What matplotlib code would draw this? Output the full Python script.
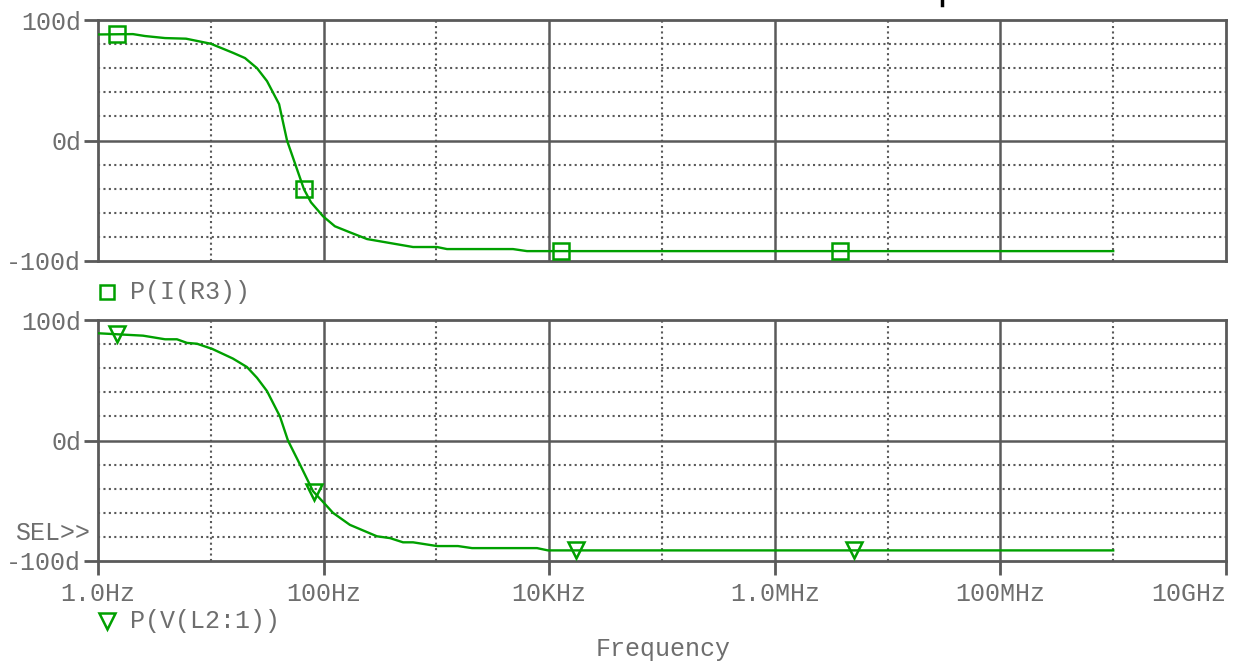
import numpy as np
import matplotlib
matplotlib.use("Agg")
import matplotlib.pyplot as plt
from matplotlib.lines import Line2D

# ---- data ----
freq_i = [1, 2.04, 2.61, 3.93, 6.03, 10, 15.7, 20.1, 25.7, 31.5, 40.3, 47.4,
          56.9, 67, 77.3, 98.9, 126, 171, 243, 621, 1012, 1242, 4775, 6353, 1e9]
phase_i = [88, 88.3, 86.7, 85, 84.5, 80.3, 72.8, 68.4, 60, 49.3, 30.2, 0,
           -21.4, -40.5, -51.3, -62.9, -71.2, -76.2, -81.8, -88.4, -88.4,
           -90.1, -90.1, -91.8, -91.8]

freq_v = [1, 2.51, 3.93, 5.01, 6.15, 7.55, 10.3, 15.7, 20.9, 25.7, 31.5, 41.0,
          48.3, 61.8, 80.5, 98.9, 121, 171, 297, 388, 506, 621, 1012, 1552,
          2070, 7798, 9750, 1e9]
phase_v = [89, 87, 84, 84, 81, 80.3, 76, 68, 61, 52, 41, 20, 0, -20, -42, -51,
           -60, -70, -79.5, -81, -84.5, -84.5, -87.6, -87.6, -89.3, -89.3,
           -91.2, -91.2]

marker_freq_i = [1.47, 67, 12.7e3, 3.8e6]
marker_freq_v = [1.47, 82, 17.3e3, 5.0e6]

x_ticks = [1, 100, 1e4, 1e6, 1e8, 1e10]
x_labels = ["1.0Hz", "100Hz", "10KHz", "1.0MHz", "100MHz", "10GHz"]
y_ticks = [-100, 0, 100]
y_labels = ["-100d", "0d", "100d"]
legend_i = "P(I(R3))"
legend_v = "P(V(L2:1))"

GREEN = "#00a000"
GRAY = "#5a5a5a"
TXT = "#6e6e6e"
FONT = "Liberation Mono"
FS = 18

fig = plt.figure(figsize=(12.34, 6.62), dpi=100)
W, H = 1234, 662

def make_ax(top_px, bottom_px):
    ax = fig.add_axes([98 / W, 1 - bottom_px / H, 1128 / W, (bottom_px - top_px) / H])
    ax.set_xscale("log")
    ax.set_xlim(1, 1e10)
    ax.set_ylim(-100, 100)
    for s in ax.spines.values():
        s.set_color(GRAY)
        s.set_linewidth(2)
    for f in [1e1, 1e3, 1e5, 1e7, 1e9]:
        ax.axvline(f, color=GRAY, lw=1.5, ls=(0, (1, 1.6)), zorder=1)
    for f in [1e2, 1e4, 1e6, 1e8]:
        ax.axvline(f, color=GRAY, lw=1.8, zorder=1)
    for yv in [-80, -60, -40, -20, 20, 40, 60, 80]:
        ax.axhline(yv, color=GRAY, lw=1.5, ls=(0, (1, 1.6)), zorder=1)
    ax.axhline(0, color=GRAY, lw=1.8, zorder=1)
    ax.set_yticks(y_ticks)
    ax.set_yticklabels(y_labels, fontfamily=FONT, fontsize=FS, color=TXT)
    ax.xaxis.set_minor_locator(matplotlib.ticker.NullLocator())
    ax.tick_params(axis="y", direction="out", length=10, width=2, color=GRAY, pad=2)
    ax.tick_params(axis="x", direction="out", length=10, width=2, color=GRAY, pad=5)
    return ax

ax1 = make_ax(20, 261)
ax2 = make_ax(320, 561)

ax1.set_xticks(x_ticks)
ax1.tick_params(axis="x", length=0, labelbottom=False)

ax2.set_xticks(x_ticks)
ax2.set_xticklabels(x_labels, fontfamily=FONT, fontsize=FS, color=TXT)
lbls = ax2.get_xticklabels()
lbls[-1].set_horizontalalignment("right")

ax1.plot(freq_i, phase_i, color=GREEN, lw=1.7, zorder=3)
ax1.plot(marker_freq_i, np.interp(np.log10(marker_freq_i), np.log10(freq_i), phase_i),
         ls="none", marker="s", ms=11, mfc="none", mec=GREEN, mew=1.8, zorder=4)

ax2.plot(freq_v, phase_v, color=GREEN, lw=1.7, zorder=3)
ax2.plot(marker_freq_v, np.interp(np.log10(marker_freq_v), np.log10(freq_v), phase_v),
         ls="none", marker="v", ms=12, mfc="none", mec=GREEN, mew=1.8, zorder=4)

# legends
fig.add_artist(Line2D([107 / W], [1 - 292 / H], marker="s", ms=10, mfc="none",
                      mec=GREEN, mew=1.8, ls="none"))
fig.text(130 / W, 1 - 292 / H, legend_i, fontfamily=FONT, fontsize=FS, color=TXT,
         va="center", ha="left")
fig.add_artist(Line2D([107 / W], [1 - 621 / H], marker="v", ms=11, mfc="none",
                      mec=GREEN, mew=1.8, ls="none"))
fig.text(130 / W, 1 - 621 / H, legend_v, fontfamily=FONT, fontsize=FS, color=TXT,
         va="center", ha="left")

fig.text(90 / W, 1 - 533 / H, "SEL>>", fontfamily=FONT, fontsize=FS, color=TXT,
         va="center", ha="right")
fig.text(663 / W, 1 - 649 / H, "Frequency", fontfamily=FONT, fontsize=FS, color=TXT,
         va="center", ha="center")

# cut-off glyph at top
fig.add_artist(Line2D([942 / W, 942 / W], [1.0, 1 - 5 / H], color="black", lw=2.5))

fig.savefig("out.png", dpi=100)
